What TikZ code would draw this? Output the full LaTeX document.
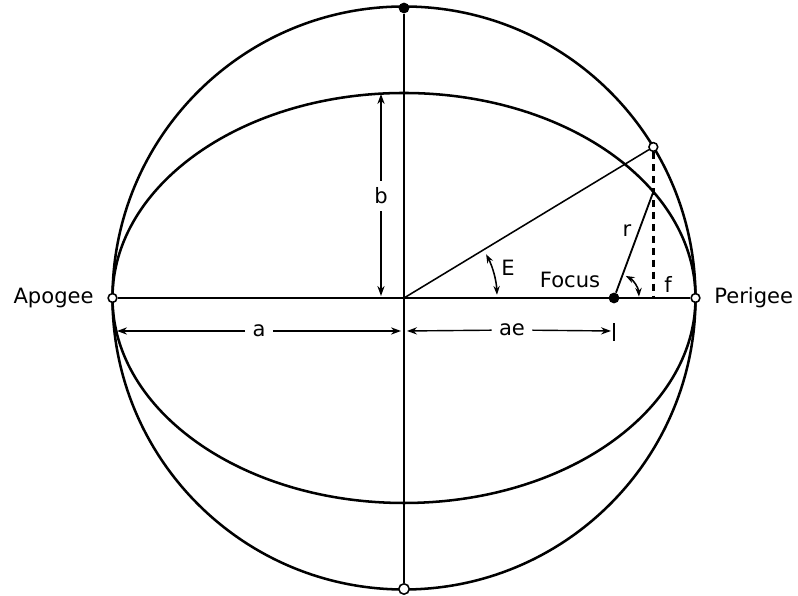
\documentclass[tikz,border=0pt]{standalone}
\usepackage{fontspec}
\setmainfont{DejaVu Sans}
\usetikzlibrary{arrows.meta, positioning, calc}

\begin{document}
\begin{tikzpicture}[x=0.025cm, y=0.025cm,
    orbit/.style={line width=1.8pt},
    axis/.style={line width=1.5pt},
    thinline/.style={line width=1.1pt},
    dimarr/.style={-{Stealth[length=2.5mm, width=1.8mm]}, line width=1pt},
    angarr/.style={{Stealth[length=2.2mm, width=1.6mm]}-{Stealth[length=2.2mm, width=1.6mm]}, line width=1.1pt},
    hole/.style={circle, draw, line width=1.1pt, fill=white, inner sep=0pt, minimum size=2.2mm},
    dot/.style={circle, fill=black, inner sep=0pt, minimum size=2.7mm},
    lbl/.style={font=\fontsize{15}{18}\selectfont, inner sep=1pt},
    dimlbl/.style={lbl, inner sep=5pt}
]
\useasboundingbox (0,0) rectangle (798,596);
\coordinate (ctr) at (404,298);
\draw[orbit] (ctr) circle [radius=291.5];
\draw[orbit] (ctr) ellipse [x radius=291.5, y radius=205];

\node[dot] (top) at (404,588) {};
\node[hole, minimum size=2.6mm] (bot) at (404,7) {};
\node[hole] (apo) at (112.5,298) {};
\node[hole] (peri) at (695.5,298) {};
\node[dot] (foc) at (614,298) {};
\node[hole] (P) at ($(ctr)+(31.2:291.5)$) {};
\coordinate (Q) at ($(ctr)+(31.2:291.5 and 205)$);
\coordinate (D) at (P |- ctr);

\node[lbl, left=3mm of apo] (apolbl) {Apogee};
\node[lbl, right=3mm of peri] (perilbl) {Perigee};
\node[lbl] (foclbl) at (570,316) {Focus};
\node[lbl] (rlbl) at (627,365) {r};
\node[lbl] (flbl) at (668,312) {f};
\node[lbl] (Elbl) at (508,328) {E};

\draw[axis, line width=1.8pt] (top) -- (bot);
\draw[axis] (apo) -- (peri);
\draw[thinline] (ctr) -- (P);
\draw[line width=2pt, dash pattern=on 5pt off 3.5pt] (P) -- (D);
\draw[thinline, line width=1.3pt] (foc) -- (Q);

\draw[angarr] ([shift={(2:93)}]ctr) arc [start angle=2, end angle=28, radius=93];
\draw[angarr] ([shift={(3:25)}]foc) arc [start angle=3, end angle=62, radius=25];

\node[dimlbl] (lb) at (381,400) {b};
\coordinate (bT) at (381,502);
\coordinate (bB) at (381,300);
\draw[dimarr] (lb) -- (bT);
\draw[dimarr] (lb) -- (bB);

\node[dimlbl] (la) at (259,265) {a};
\coordinate (aL) at (117,265);
\coordinate (aR) at (401,265);
\draw[dimarr] (la) -- (aL);
\draw[dimarr] (la) -- (aR);

\node[dimlbl] (lae) at (512,266) {ae};
\coordinate (aeL) at (407,265);
\coordinate (aeR) at (611,265);
\draw[dimarr] (lae) -- (aeL);
\draw[dimarr] (lae) -- (aeR);
\draw[thinline] ($(aeR)+(3,-10)$) -- ($(aeR)+(3,8)$);
\end{tikzpicture}
\end{document}
